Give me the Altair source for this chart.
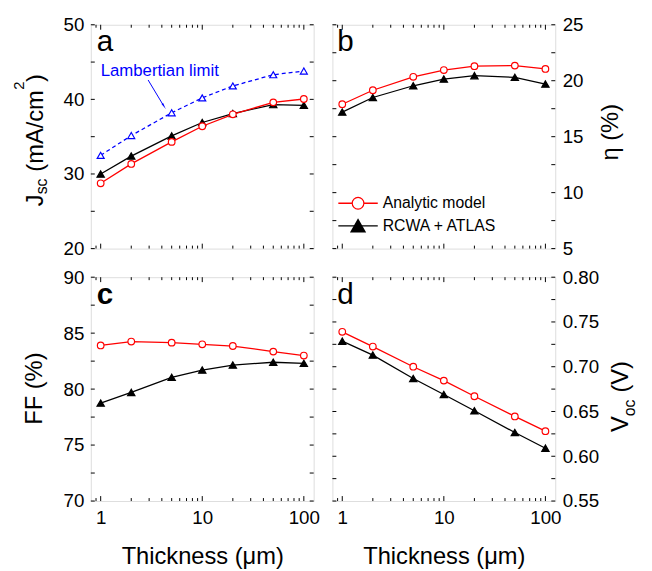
import altair as alt
import pandas as pd
import numpy as np

# ---------------- data ----------------
thickness = [1, 2, 5, 10, 20, 50, 100]
jsc_analytic = [28.75, 31.35, 34.3, 36.4, 38.0, 39.6, 40.05]
jsc_rcwa = [30.0, 32.4, 35.1, 36.9, 38.1, 39.3, 39.2]
jsc_lambert = [32.5, 35.15, 38.2, 40.2, 41.8, 43.3, 43.8]
eta_analytic = [17.9, 19.15, 20.35, 20.95, 21.3, 21.35, 21.05]
eta_rcwa = [17.2, 18.5, 19.55, 20.15, 20.45, 20.3, 19.7]
ff_analytic = [83.9, 84.25, 84.15, 84.0, 83.85, 83.35, 83.0]
ff_rcwa = [78.75, 79.7, 81.05, 81.7, 82.15, 82.4, 82.3]
voc_analytic = [0.739, 0.7225, 0.700, 0.6845, 0.667, 0.6445, 0.628]
voc_rcwa = [0.7285, 0.713, 0.6868, 0.669, 0.6508, 0.6265, 0.609]

x_major = [1, 10, 100]
x_minor = [0.9, 2, 3, 4, 5, 6, 7, 8, 9, 20, 30, 40, 50, 60, 70, 80, 90]

FONT = "Liberation Sans"
W, H = 226, 227
RED = "#ff0000"
BLUE = "#0000ff"
one = pd.DataFrame({"k": [0]})
XDOM = [0.8, 125]
LBL = 19


def xenc(show):
    if show:
        ax = alt.Axis(values=x_major, format="~g", ticks=False, domain=False, grid=False,
                      labelPadding=8, labelFontSize=LBL, labelFont=FONT, labelColor="black",
                      labelFlush=False, title="Thickness (μm)", titleFont=FONT,
                      titleFontSize=24, titleFontWeight="normal", titleColor="black",
                      titlePadding=17)
    else:
        ax = None
    return alt.X("t:Q", scale=alt.Scale(type="log", domain=XDOM, nice=False), axis=ax)


def yenc(dom, labels, orient, fmt):
    ax = alt.Axis(values=labels, orient=orient, format=fmt, ticks=False, domain=False,
                  grid=False, labelPadding=7, labelFontSize=LBL, labelFont=FONT,
                  labelColor="black", labelFlush=False, title=None)
    return alt.Y("v:Q", scale=alt.Scale(domain=dom, nice=False, zero=False), axis=ax)


def series(vals, color, shape, fill, dash=None, size=45):
    df = pd.DataFrame({"t": thickness, "v": vals})
    lk = dict(color=color, strokeWidth=1.3)
    if dash:
        lk["strokeDash"] = dash
    line = alt.Chart(df).mark_line(**lk)
    pts = alt.Chart(df).mark_point(shape=shape, size=size, filled=True, fill=fill,
                                   stroke=color, strokeWidth=1.2, opacity=1)
    return line, pts


def txt(s, x, y, size=24, angle=0, align="left", baseline="alphabetic",
        color="black", weight="normal"):
    kw = dict(text=s, fontSize=size, font=FONT, align=align, baseline=baseline,
              color=color, fontWeight=weight)
    if angle:
        kw["angle"] = angle
    return alt.Chart(one).mark_text(**kw).encode(x=alt.value(x), y=alt.value(y))


def tick_layers(X, Y, yticks):
    out = []
    dmaj = pd.DataFrame({"t": x_major})
    dmin = pd.DataFrame({"t": x_minor})
    for d, ln in ((dmaj, 5), (dmin, 3)):
        out.append(alt.Chart(d).mark_rule(color="black", strokeWidth=1)
                   .encode(x=X, y=alt.value(H), y2=alt.value(H - ln)))
        out.append(alt.Chart(d).mark_rule(color="black", strokeWidth=1)
                   .encode(x=X, y=alt.value(0), y2=alt.value(ln)))
    dy = pd.DataFrame({"v": yticks})
    out.append(alt.Chart(dy).mark_rule(color="black", strokeWidth=1)
               .encode(y=Y, x=alt.value(0), x2=alt.value(4)))
    out.append(alt.Chart(dy).mark_rule(color="black", strokeWidth=1)
               .encode(y=Y, x=alt.value(W), x2=alt.value(W - 4)))
    return out


def panel(X, Y, yticks, layers):
    base = tick_layers(X, Y, yticks)
    return alt.layer(*base, *layers).properties(width=W, height=H)


# ---------------- panel a ----------------
Xa = xenc(False)
Ya = yenc([20, 50], [20, 30, 40, 50], "left", "d")
la, pa = series(jsc_lambert, BLUE, "triangle-up", "white", dash=[4, 3], size=50)
ra, rpa = series(jsc_analytic, RED, "circle", "white")
ba, bpa = series(jsc_rcwa, "black", "triangle-up", "black", size=55)
ann = pd.DataFrame({"t": [2.93], "v": [42.6], "t2": [4.1], "v2": [39.3]})
arrow = alt.Chart(ann).mark_rule(color=BLUE, strokeWidth=1).encode(
    x=Xa, y=Ya, x2="t2:Q", y2="v2:Q")
head_df = pd.DataFrame({"t": [4.15], "v": [39.2]})
head = alt.Chart(head_df).mark_point(shape="wedge", angle=148, size=60, filled=True,
                                     color=BLUE, opacity=1).encode(x=Xa, y=Ya)
lam_df = pd.DataFrame({"t": [1.0], "v": [43.1]})
lam_txt = alt.Chart(lam_df).mark_text(text="Lambertian limit", font=FONT, fontSize=17,
                                      color=BLUE, align="left",
                                      baseline="alphabetic").encode(x=Xa, y=Ya)
layers_a = [
    la.encode(x=Xa, y=Ya), pa.encode(x=Xa, y=Ya),
    ba.encode(x=Xa, y=Ya), bpa.encode(x=Xa, y=Ya),
    ra.encode(x=Xa, y=Ya), rpa.encode(x=Xa, y=Ya),
    lam_txt, arrow, head,
    txt("a", 6, 27, size=30),
    txt("J", -49, 184, angle=270),
    txt("sc", -44, 172, size=16, angle=270),
    txt("(mA/cm", -49, 149, angle=270),
    txt("2", -68, 66, size=15, angle=270),
    txt(")", -49, 58, angle=270),
]
chart_a = panel(Xa, Ya, [20, 25, 30, 35, 40, 45, 50], layers_a)

# ---------------- panel b ----------------
Xb = xenc(False)
Yb = yenc([5, 25], [5, 10, 15, 20, 25], "right", "d")
rb, rpb = series(eta_analytic, RED, "circle", "white")
bb, bpb = series(eta_rcwa, "black", "triangle-up", "black", size=55)
layers_b = [
    bb.encode(x=Xb, y=Yb), bpb.encode(x=Xb, y=Yb),
    rb.encode(x=Xb, y=Yb), rpb.encode(x=Xb, y=Yb),
    txt("b", 5, 27, size=30),
    # legend
    alt.Chart(one).mark_rule(color=RED, strokeWidth=1.3).encode(
        x=alt.value(6), x2=alt.value(46), y=alt.value(181)),
    alt.Chart(one).mark_point(shape="circle", size=140, filled=True, fill="white",
                              stroke=RED, strokeWidth=1.2, opacity=1).encode(
        x=alt.value(26), y=alt.value(181)),
    alt.Chart(one).mark_rule(color="black", strokeWidth=1.3).encode(
        x=alt.value(6), x2=alt.value(46), y=alt.value(204)),
    alt.Chart(one).mark_point(shape="triangle-up", size=170, filled=True, fill="black",
                              stroke="black", opacity=1).encode(
        x=alt.value(26), y=alt.value(204)),
    txt("Analytic model", 51, 181, size=16, baseline="middle"),
    txt("RCWA + ATLAS", 51, 204, size=16, baseline="middle"),
    txt("η (%)", 290, 109, angle=270, align="center"),
]
chart_b = panel(Xb, Yb, list(np.arange(5, 25.01, 2.5)), layers_b)

# ---------------- panel c ----------------
Xc = xenc(True)
Yc = yenc([70, 90], [70, 75, 80, 85, 90], "left", "d")
rc, rpc = series(ff_analytic, RED, "circle", "white")
bc, bpc = series(ff_rcwa, "black", "triangle-up", "black", size=55)
layers_c = [
    bc.encode(x=Xc, y=Yc), bpc.encode(x=Xc, y=Yc),
    rc.encode(x=Xc, y=Yc), rpc.encode(x=Xc, y=Yc),
    txt("c", 6, 27, size=30, weight="bold"),
    txt("FF (%)", -50, 113, angle=270, align="center"),
]
chart_c = panel(Xc, Yc, list(np.arange(70, 90.01, 2.5)), layers_c)

# ---------------- panel d ----------------
Xd = xenc(True)
Yd = yenc([0.55, 0.80], [0.55, 0.60, 0.65, 0.70, 0.75, 0.80], "right", ".2f")
rd, rpd = series(voc_analytic, RED, "circle", "white")
bd, bpd = series(voc_rcwa, "black", "triangle-up", "black", size=55)
layers_d = [
    bd.encode(x=Xd, y=Yd), bpd.encode(x=Xd, y=Yd),
    rd.encode(x=Xd, y=Yd), rpd.encode(x=Xd, y=Yd),
    txt("d", 5, 27, size=30),
    txt("V", 300, 157, angle=270),
    txt("oc", 307, 141, size=16, angle=270),
    txt("(V)", 300, 117, angle=270),
]
chart_d = panel(Xd, Yd, list(np.arange(0.55, 0.8001, 0.025)), layers_d)

chart = alt.concat(chart_a, chart_b, chart_c, chart_d, columns=2,
                   spacing={"row": 29, "column": 19}, bounds="flush").properties(
    padding={"left": 3, "top": 3, "right": 5, "bottom": 0}
).resolve_scale(x="independent", y="independent").configure_view(
    stroke="black", strokeWidth=1.2).configure(background="white")

chart.save("out.html", embed_options={"renderer": "svg", "actions": False})
